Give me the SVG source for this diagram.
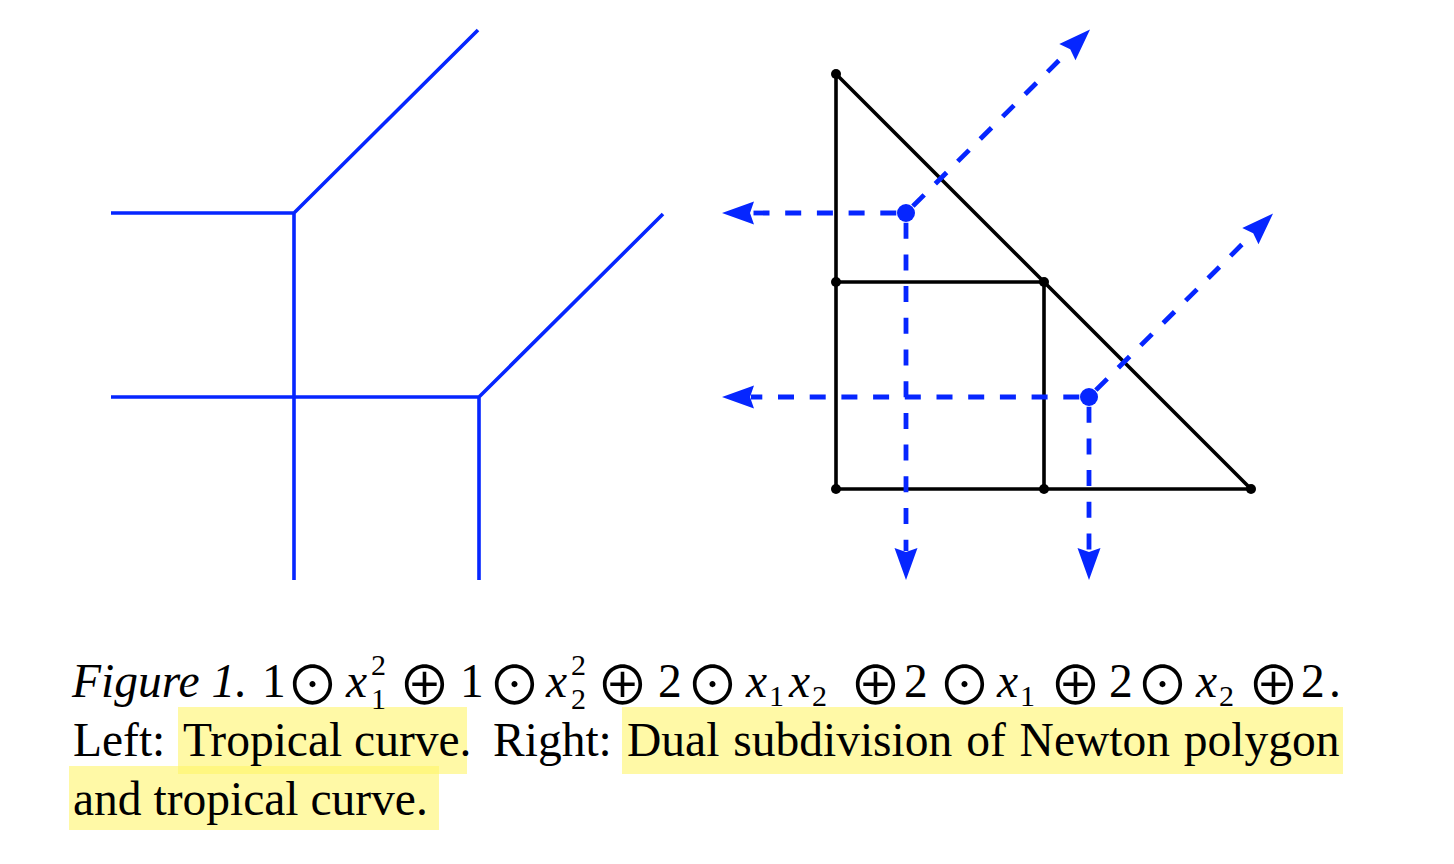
<svg xmlns="http://www.w3.org/2000/svg" width="1454" height="864" viewBox="0 0 1454 864">
<style>
.trop{fill:none;stroke:#0626ff;stroke-width:3.6;stroke-linecap:butt}
.dash{fill:none;stroke:#0626ff;stroke-width:4.8;stroke-dasharray:16 15.7;stroke-dashoffset:22}
.poly{fill:none;stroke:#000;stroke-width:3.6;stroke-linejoin:round}
.vb{fill:#000}
.vd{fill:#0626ff}
.hl{fill:#fff566;opacity:0.58}
.cap{font-family:"Liberation Serif","Times New Roman",serif;font-size:47.5px;fill:#000}
.it{font-style:italic}
.sym{font-family:"Noto Sans CJK SC","DejaVu Sans",sans-serif;font-size:53px}
.sm{font-size:30px}
</style>
<defs>
<marker id="ah" markerUnits="userSpaceOnUse" markerWidth="40" markerHeight="30" viewBox="0 -15 40 30" refX="3" refY="0" orient="auto" overflow="visible">
<path d="M0,-11.5 L32,0 L0,11.5 L4,0 Z" fill="#0626ff"/>
</marker>
</defs>
<rect width="1454" height="864" fill="#fff"/>

<g id="tropical-curve-left">
<path class="trop" d="M111,213 H294 L478,30 M294,213 V580"/>
<path class="trop" d="M111,397 H479 L663,214 M479,397 V580"/>
</g>

<g id="newton-polygon">
<path class="poly" d="M836,74 L1251,489 H836 Z M836,282 H1044 V489"/>
<circle class="vb" cx="836" cy="74" r="5"/>
<circle class="vb" cx="836" cy="282" r="5"/>
<circle class="vb" cx="1044" cy="282" r="5"/>
<circle class="vb" cx="836" cy="489" r="5"/>
<circle class="vb" cx="1044" cy="489" r="5"/>
<circle class="vb" cx="1251" cy="489" r="5"/>
</g>

<g id="connectors">
<path class="dash" d="M906,213 H751" marker-end="url(#ah)"/>
<path class="dash" d="M906,213 V551" marker-end="url(#ah)"/>
<path class="dash" d="M906,213 L1069.5,50" marker-end="url(#ah)"/>
<path class="dash" d="M1089,397 H751" marker-end="url(#ah)"/>
<path class="dash" d="M1089,397 V551" marker-end="url(#ah)"/>
<path class="dash" d="M1089,397 L1252.5,234" marker-end="url(#ah)"/>
</g>

<g id="tropical-vertices">
<circle class="vd" cx="906" cy="213" r="9"/>
<circle class="vd" cx="1089" cy="397" r="9"/>
</g>

<g id="caption">
<rect class="hl" x="178" y="707" width="289" height="67"/>
<rect class="hl" x="622" y="707" width="721" height="67"/>
<rect class="hl" x="69" y="766" width="370" height="64"/>
<text class="cap" y="697">
<tspan class="it" x="72">Figure 1.</tspan>
<tspan x="262">1</tspan>
<tspan class="sym" x="286" y="705">⊙</tspan>
<tspan class="it" x="346" y="697">x</tspan>
<tspan class="sm" x="371" y="675">2</tspan>
<tspan class="sm" x="371" y="708.5">1</tspan>
<tspan class="sym" x="398" y="705">⊕</tspan>
<tspan x="460" y="697">1</tspan>
<tspan class="sym" x="488" y="705">⊙</tspan>
<tspan class="it" x="546" y="697">x</tspan>
<tspan class="sm" x="571" y="675">2</tspan>
<tspan class="sm" x="571" y="708.5">2</tspan>
<tspan class="sym" x="596" y="705">⊕</tspan>
<tspan x="658" y="697">2</tspan>
<tspan class="sym" x="686" y="705">⊙</tspan>
<tspan class="it" x="746" y="697">x</tspan>
<tspan class="sm" x="769" y="706">1</tspan>
<tspan class="it" x="789" y="697">x</tspan>
<tspan class="sm" x="812" y="706">2</tspan>
<tspan class="sym" x="849" y="705">⊕</tspan>
<tspan x="904" y="697">2</tspan>
<tspan class="sym" x="938" y="705">⊙</tspan>
<tspan class="it" x="997" y="697">x</tspan>
<tspan class="sm" x="1020" y="706">1</tspan>
<tspan class="sym" x="1049" y="705">⊕</tspan>
<tspan x="1109" y="697">2</tspan>
<tspan class="sym" x="1136" y="705">⊙</tspan>
<tspan class="it" x="1196" y="697">x</tspan>
<tspan class="sm" x="1219" y="706">2</tspan>
<tspan class="sym" x="1247" y="705">⊕</tspan>
<tspan x="1301" y="697">2</tspan>
<tspan x="1329" y="697">.</tspan>
</text>
<text class="cap" y="756">
<tspan x="73">Left:</tspan>
<tspan x="183">Tropical curve.</tspan>
<tspan x="493">Right:</tspan>
<tspan x="627" word-spacing="2">Dual subdivision of Newton polygon</tspan>
</text>
<text class="cap" x="73" y="815">and tropical curve.</text>
</g>
</svg>
